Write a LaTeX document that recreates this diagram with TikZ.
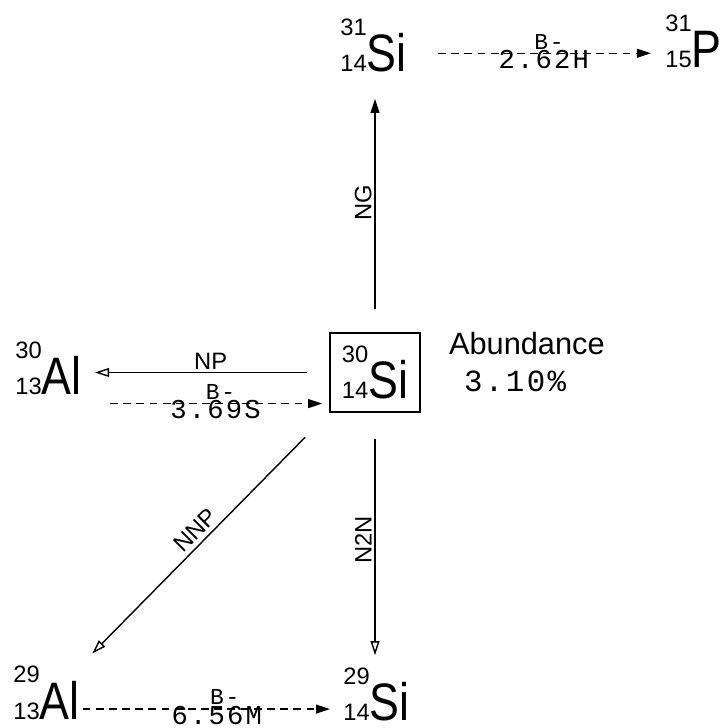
\documentclass[tikz,border=0pt]{standalone}
\usepackage{fontspec}
\setmainfont{Liberation Sans}
\newfontfamily\elfont{Liberation Sans}[FakeStretch=0.85]
\newfontfamily\valfont{Liberation Mono}[LetterSpace=8]
\usetikzlibrary{arrows.meta, positioning, calc}

% mass number over charge number, then the element
\newcommand{\iso}[3]{{\fontsize{13.5}{14}\selectfont\shortstack[r]{#1\\[8.3pt]#2}}{\elfont\fontsize{30}{30}\selectfont #3}}

\begin{document}
\begin{tikzpicture}[
    iso/.style={inner sep=0pt, anchor=base east},
    box/.style={draw, line width=0.8pt, minimum width=1.8cm, minimum height=1.58cm, inner sep=0pt},
    arrow/.style={-{Triangle[length=8pt, width=5pt]}, line width=0.8pt},
    openarrow/.style={-{Triangle[open, length=8pt, width=5pt]}, line width=0.8pt},
    decay/.style={arrow, dash pattern=on 4.5pt off 3pt},
    lbl/.style={font=\fontsize{13.5}{14}\selectfont, inner sep=1.5pt},
    blbl/.style={font=\valfont\fontsize{13}{14}\selectfont, inner sep=2pt},
    vlbl/.style={font=\valfont\fontsize{15.5}{16}\selectfont, inner sep=0pt, yshift=2pt}
]
    \useasboundingbox (0,0) rectangle (14.54,14.56);

    \node [box] (si30) at (7.5,7.11) {\iso{30}{14}{Si}};
    \node [iso] (si31) at (8.14,13.12) {\iso{31}{14}{Si}};
    \node [iso] (p31) at (14.44,13.2) {\iso{31}{15}{P}};
    \node [iso] (al30) at (1.64,6.66) {\iso{30}{13}{Al}};
    \node [iso] (al29) at (1.6,0.17) {\iso{29}{13}{Al}};
    \node [iso] (si29) at (8.2,0.15) {\iso{29}{14}{Si}};
    \node [right=0.56cm of si30.north east, anchor=north west, inner sep=0pt, align=left,
           font=\fontsize{17.5}{21}\selectfont] (abund) {Abundance\\\hspace*{0.3cm}{\valfont 3.10\%}};

    % reactions
    \draw [arrow, shorten <=0.46cm, shorten >=0.52cm] (si30.north) -- node[lbl, rotate=90, anchor=south] {NG} (si30.north |- si31.south);
    \draw [openarrow, shorten <=0.52cm, shorten >=0.24cm] (si30.south) -- node[lbl, rotate=90, anchor=south] {N2N} (si30.south |- si29.north);
    \draw [openarrow, shorten <=0.44cm, shorten >=0.26cm] (si30.west) -- node[lbl, pos=0.48, above] {NP} (si30.west -| al30.east);
    \draw [openarrow, shorten <=0.69cm, shorten >=0.35cm] (si30.south west) -- node[lbl, rotate=45, anchor=south, inner sep=2.5pt] {NNP} (al29.north east);

    % decays
    \draw [decay, shorten <=0.62cm, shorten >=0.28cm] ($(si31.east)+(0,-0.15)$) -- node[blbl, pos=0.55, above] {B-} node[vlbl, pos=0.53, below] {2.62H} ($(si31.east -| p31.west)+(0,-0.15)$);
    \draw [decay, shorten <=0.56cm, shorten >=0.14cm] ($(al30.south east)+(0,-0.16)$) -- node[blbl, pos=0.56, above] {B-} node[vlbl, pos=0.54, below] {3.69S} ($(al30.south east -| si30.west)+(0,-0.16)$);
    \draw [decay, shorten <=0.05cm, shorten >=0.26cm] ($(al29.south east)+(0,0.22)$) -- node[blbl, pos=0.55, above] {B-} node[vlbl, pos=0.52, below] {6.56M} ($(al29.south east -| si29.west)+(0,0.22)$);
\end{tikzpicture}
\end{document}
